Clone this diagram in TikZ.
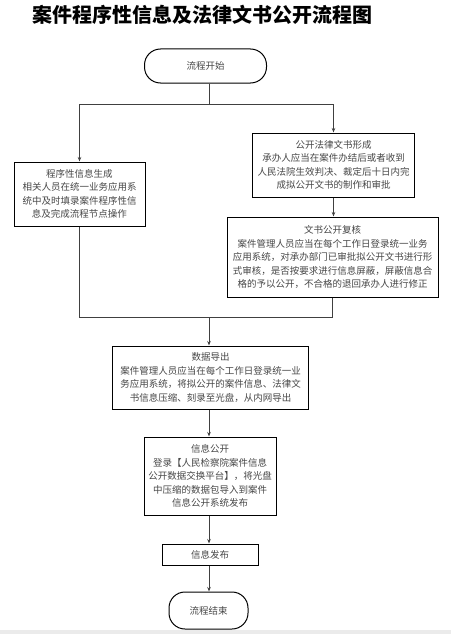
\documentclass[tikz,border=0pt]{standalone}
\usepackage{fontspec}
\setmainfont{Noto Sans CJK SC}
\newfontfamily\cjk{Noto Sans CJK SC}
\usetikzlibrary{arrows.meta}
\tikzset{
  box/.style={draw=black, line width=1pt, rectangle, align=center, inner sep=0pt,
    font=\fontsize{9.5}{13.5}\selectfont, text=black!72},
  term/.style={box, rounded corners=16pt},
  conn/.style={draw=black!75, line width=0.8pt},
  arr/.style={conn, -{Stealth[length=4.5pt,width=3.5pt]}}
}
\begin{document}
\begin{tikzpicture}[x=1pt,y=-1pt]
\useasboundingbox (0,0) rectangle (451,634);
\fill[white] (0,0) rectangle (451,634);
\fill[black!8] (0,630) rectangle (451,634);
\node[font=\fontsize{20}{22}\selectfont\bfseries, text=black] (title) at (202,15) {案件程序性信息及法律文书公开流程图};
\node[term, minimum width=122pt, minimum height=34pt] (start) at (205.5,66) {流程开始};
\node[box, minimum width=131pt, minimum height=64pt] (left) at (79.5,194)
  {程序性信息生成\\相关人员在统一业务应用系\\统中及时填录案件程序性信\\息及完成流程节点操作};
\node[box, minimum width=162pt, minimum height=64pt] (r1) at (333.5,165)
  {公开法律文书形成\\承办人应当在案件办结后或者收到\\人民法院生效判决、裁定后十日内完\\成拟公开文书的制作和审批};
\node[box, minimum width=211pt, minimum height=80pt] (r2) at (332.5,257)
  {文书公开复核\\案件管理人员应当在每个工作日登录统一业务\\应用系统，对承办部门已审批拟公开文书进行形\\式审核，是否按要求进行信息屏蔽，屏蔽信息合\\格的予以公开，不合格的退回承办人进行修正};
\node[box, minimum width=196pt, minimum height=63pt] (exp) at (210.5,377.5)
  {数据导出\\案件管理人员应当在每个工作日登录统一业\\务应用系统，将拟公开的案件信息、法律文\\书信息压缩、刻录至光盘，从内网导出};
\node[box, minimum width=132pt, minimum height=78pt] (pub) at (210,476)
  {信息公开\\登录【人民检察院案件信息\\公开数据交换平台】，将光盘\\中压缩的数据包导入到案件\\信息公开系统发布};
\node[box, minimum width=96pt, minimum height=21pt] (fa) at (210,554.5) {信息发布};
\node[term, minimum width=79pt, minimum height=37pt] (end) at (208.5,610.5) {流程结束};
\coordinate (j) at (209,104);
\coordinate (m) at (209,317);
\draw[conn] (start.south -| j) -- (j);
\draw[arr] (j) -| (left.north);
\draw[arr] (j) -| (r1.north);
\draw[arr] (r1.south) -- (r1.south |- r2.north);
\draw[conn] (left.south) |- (m);
\draw[conn] (r2.south) |- (m);
\draw[arr] (m) -- (m |- exp.north);
\draw[arr] (exp.south -| m) -- (pub.north -| m);
\draw[arr] (pub.south -| m) -- (fa.north -| m);
\draw[arr] (fa.south -| m) -- (end.north -| m);
\end{tikzpicture}
\end{document}
